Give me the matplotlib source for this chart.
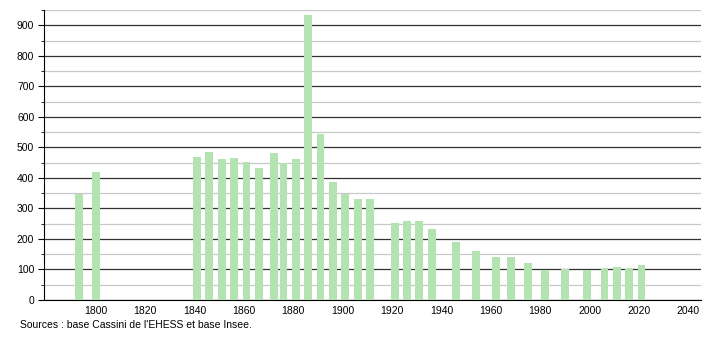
import matplotlib
matplotlib.use('Agg')
import matplotlib.pyplot as plt
from matplotlib.ticker import MultipleLocator

years = [1793, 1800, 1841, 1846, 1851, 1856, 1861, 1866, 1872, 1876, 1881, 1886,
         1891, 1896, 1901, 1906, 1911, 1921, 1926, 1931, 1936, 1946, 1954, 1962,
         1968, 1975, 1982, 1990, 1999, 2006, 2011, 2016, 2021]
population = [348, 418, 467, 486, 463, 466, 453, 432, 480, 450, 463, 932,
              543, 386, 348, 332, 332, 253, 258, 258, 234, 189, 162, 142,
              142, 121, 99, 102, 99, 105, 108, 106, 115]
x_ticks = [1800, 1820, 1840, 1860, 1880, 1900, 1920, 1940, 1960, 1980, 2000, 2020, 2040]
source_text = "Sources : base Cassini de l'EHESS et base Insee."

plt.rcParams['font.family'] = ['Liberation Sans', 'DejaVu Sans']

fig = plt.figure(figsize=(7.1, 3.4), dpi=100)
ax = fig.add_axes([0.062, 0.1176, 0.925, 0.853])

ax.bar(years, population, width=3.2, color='#b2e3b0', zorder=3)

ax.set_xlim(1779, 2045)
ax.set_ylim(0, 950)
ax.set_xticks(x_ticks)
ax.yaxis.set_major_locator(MultipleLocator(100))
ax.yaxis.set_minor_locator(MultipleLocator(50))
ax.set_yticks(range(0, 1000, 100))
ax.set_yticklabels([str(v) for v in range(0, 1000, 100)])
ax.set_ylim(0, 950)

ax.grid(axis='y', which='major', color='#333333', linewidth=0.9, zorder=1)
ax.grid(axis='y', which='minor', color='#c8c8c8', linewidth=0.9, zorder=1)

for s in ['top', 'right']:
    ax.spines[s].set_visible(False)
ax.spines['left'].set_color('black')
ax.spines['bottom'].set_color('black')
ax.tick_params(axis='x', length=0, labelsize=7.5, pad=4)
ax.tick_params(axis='y', which='major', length=4, labelsize=7.5, pad=3)
ax.tick_params(axis='y', which='minor', length=2)

fig.text(0.028, 0.035, source_text, fontsize=7.5)

fig.savefig('out.png', dpi=100)
